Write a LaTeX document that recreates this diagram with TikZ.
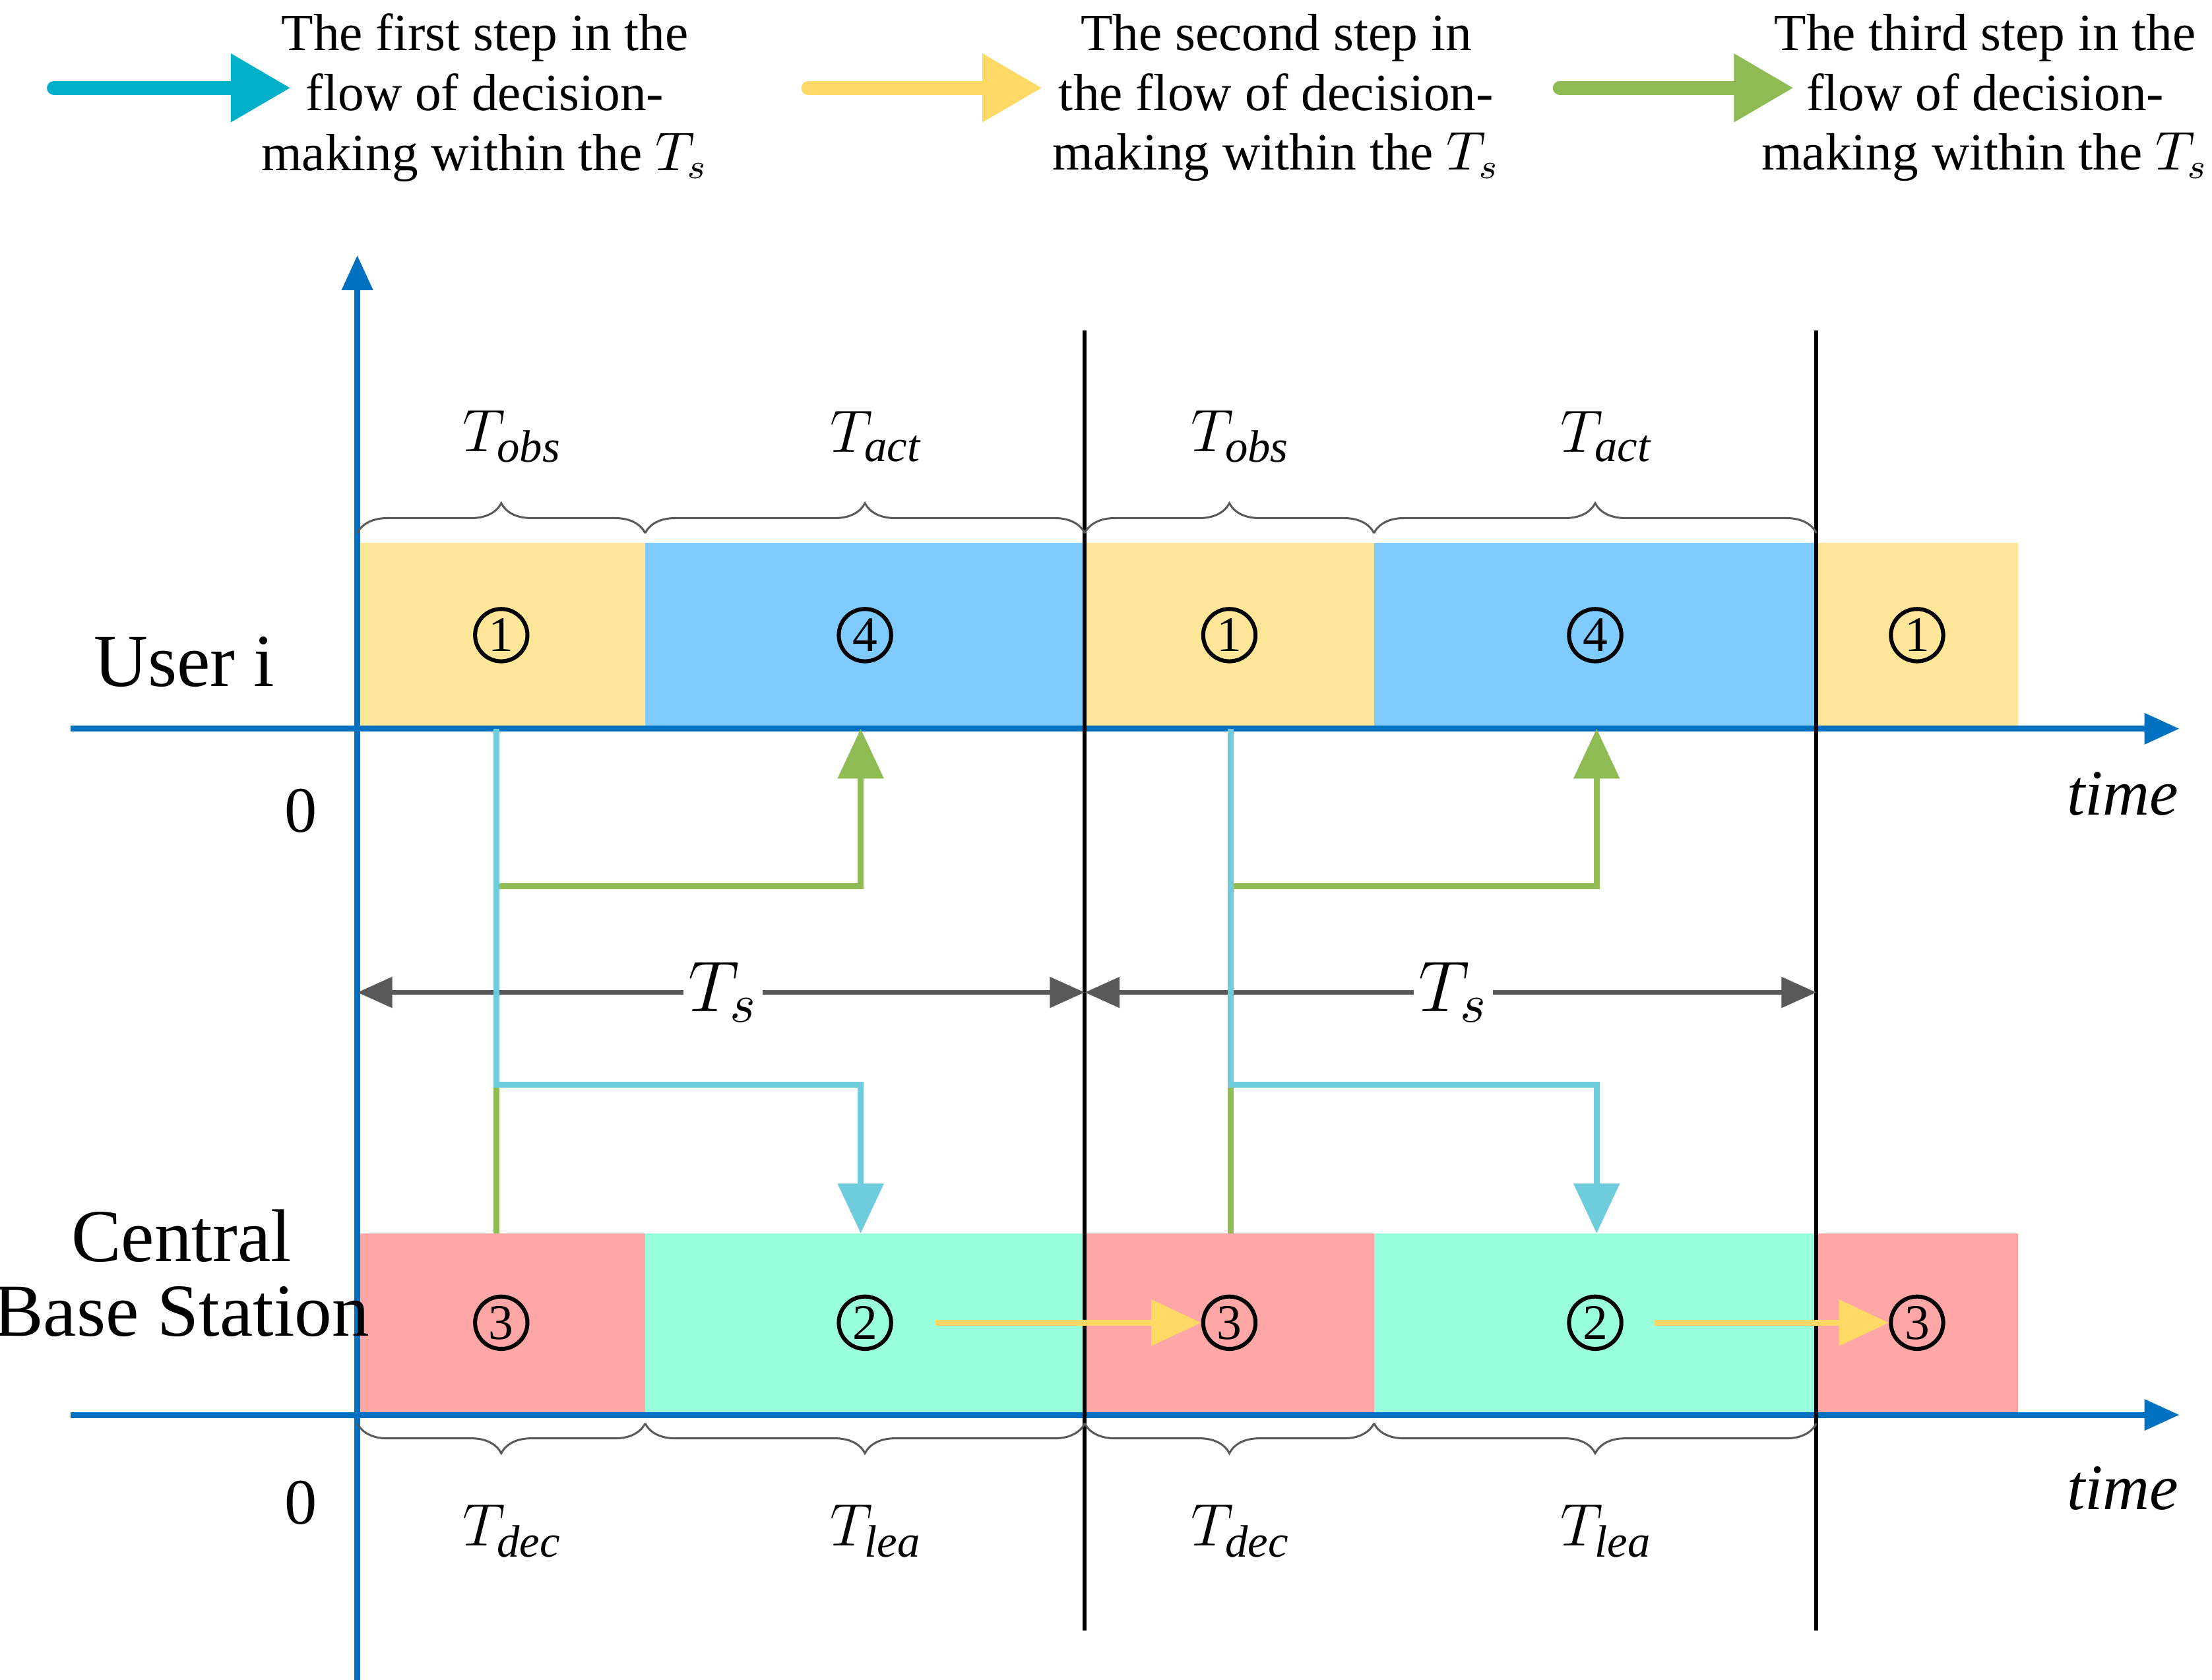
\documentclass[tikz,border=0pt]{standalone}
\usepackage{fontspec}
\setmainfont{Liberation Serif}
\usetikzlibrary{arrows.meta,decorations.pathreplacing}
\definecolor{axb}{HTML}{0070C0}
\definecolor{cy}{HTML}{00B0C8}
\definecolor{cyl}{HTML}{6FCCDC}
\definecolor{yl}{HTML}{FFD966}
\definecolor{gr}{HTML}{8FBB54}
\definecolor{fy}{HTML}{FFE699}
\definecolor{fb}{HTML}{7FCBFF}
\definecolor{fp}{HTML}{FFA7A7}
\definecolor{fg}{HTML}{99FFDD}
\begin{document}
\begin{tikzpicture}[x=0.01cm,y=-0.01cm,
 ax/.style={axb,line width=1.2pt,-{Triangle[length=7pt,width=6pt]}},
 leg/.style={line width=2.8pt,line cap=round,-{Triangle[length=12pt,width=13pt]}},
 flow/.style={line width=1.2pt,-{Triangle[length=10pt,width=9pt]}},
 lt/.style={align=center,font=\fontsize{10.5}{12}\selectfont},
 num/.style={circle,draw,thick,inner sep=0pt,minimum size=10.5pt,font=\fontsize{10}{10}\selectfont},
 br/.style={decorate,decoration={brace,amplitude=6pt},gray!70!black,thin},
 bl/.style={font=\fontsize{13}{13}\selectfont},
 big/.style={font=\fontsize{15}{15}\selectfont}]
\useasboundingbox (0,0) rectangle (1560,1185);
% legend
\coordinate (l1a) at (38,62); \coordinate (l1b) at (205,62);
\coordinate (l2a) at (570,62); \coordinate (l2b) at (735,62);
\coordinate (l3a) at (1100,62); \coordinate (l3b) at (1265,62);
\draw[leg,cy] (l1a)--(l1b);
\draw[leg,yl] (l2a)--(l2b);
\draw[leg,gr] (l3a)--(l3b);
\node[lt] (t1) at (342,69) {The first step in the\\flow of decision-\\making within the $T_s$};
\node[lt] (t2) at (900,69) {The second step in\\the flow of decision-\\making within the $T_s$};
\node[lt] (t3) at (1400,69) {The third step in the\\flow of decision-\\making within the $T_s$};
% boxes
\foreach \a/\b/\c/\n/\k in {252/455/fy/1/u1,455/765/fb/4/u2,765/969/fy/1/u3,969/1281/fb/4/u4,1281/1423/fy/1/u5}{
 \fill[\c] (\a,383) rectangle (\b,514);
 \node[num] (\k) at ({(\a+\b)/2},448) {\n};}
\foreach \a/\b/\c/\n/\k in {252/455/fp/3/c1,455/765/fg/2/c2,765/969/fp/3/c3,969/1281/fg/2/c4,1281/1423/fp/3/c5}{
 \fill[\c] (\a,870) rectangle (\b,998);
 \node[num] (\k) at ({(\a+\b)/2},933) {\n};}
% axes
\coordinate (v0) at (252,1185); \coordinate (v1) at (252,180);
\draw[ax] (v0)--(v1);
\coordinate (h1a) at (50,514); \coordinate (h1b) at (1537,514);
\coordinate (h2a) at (50,998); \coordinate (h2b) at (1537,998);
\draw[ax] (h1a)--(h1b);
\draw[ax] (h2a)--(h2b);
\coordinate (k1a) at (765,233); \coordinate (k1b) at (765,1150);
\coordinate (k2a) at (1281,233); \coordinate (k2b) at (1281,1150);
\draw[thick] (k1a)--(k1b);
\draw[thick] (k2a)--(k2b);
% braces
\foreach \a/\b/\l in {252/455/obs,455/765/act,765/969/obs,969/1281/act}{
 \draw[br] (\a,376)--(\b,376);
 \node[bl] at ({(\a+\b)/2+8},308) {$T_{\mathit{\l}}$};}
\foreach \a/\b/\l in {252/455/dec,455/765/lea,765/969/dec,969/1281/lea}{
 \draw[br] (\b,1004)--(\a,1004);
 \node[bl] at ({(\a+\b)/2+8},1080) {$T_{\mathit{\l}}$};}
% labels
\node[big] (ui) at (130,467) {User i};
\node[big,align=center] (cbs) at (128,898) {Central\\Base Station};
\node[bl] (z1) at (212,572) {0};
\node[bl] (z2) at (212,1060) {0};
\node[bl] (tm1) at (1497,560) {\textit{time}};
\node[bl] (tm2) at (1497,1050) {\textit{time}};
% Ts arrows
\draw[gray!70!black,line width=1pt,{Triangle[length=7pt,width=6pt]}-{Triangle[length=7pt,width=6pt]}] (252,700)--(765,700);
\draw[gray!70!black,line width=1pt,{Triangle[length=7pt,width=6pt]}-{Triangle[length=7pt,width=6pt]}] (765,700)--(1281,700);
% flows
\foreach \x/\y in {350/607,868/1126}{
 \draw[flow,gr] (\x,870)--(\x,625)--(\y,625)--(\y,514);
 \draw[flow,cyl] (\x,514)--(\x,765)--(\y,765)--(\y,870);}
\node[big,fill=white,inner sep=1pt] (ts1) at (510,700) {$T_s$};
\node[big,fill=white,inner sep=1pt] (ts2) at (1025,700) {$T_s$};
\draw[flow,yl] (c2.east)++(30,0) -- (c3.west);
\draw[flow,yl] (c4.east)++(22,0) -- (c5.west);
\end{tikzpicture}
\end{document}
